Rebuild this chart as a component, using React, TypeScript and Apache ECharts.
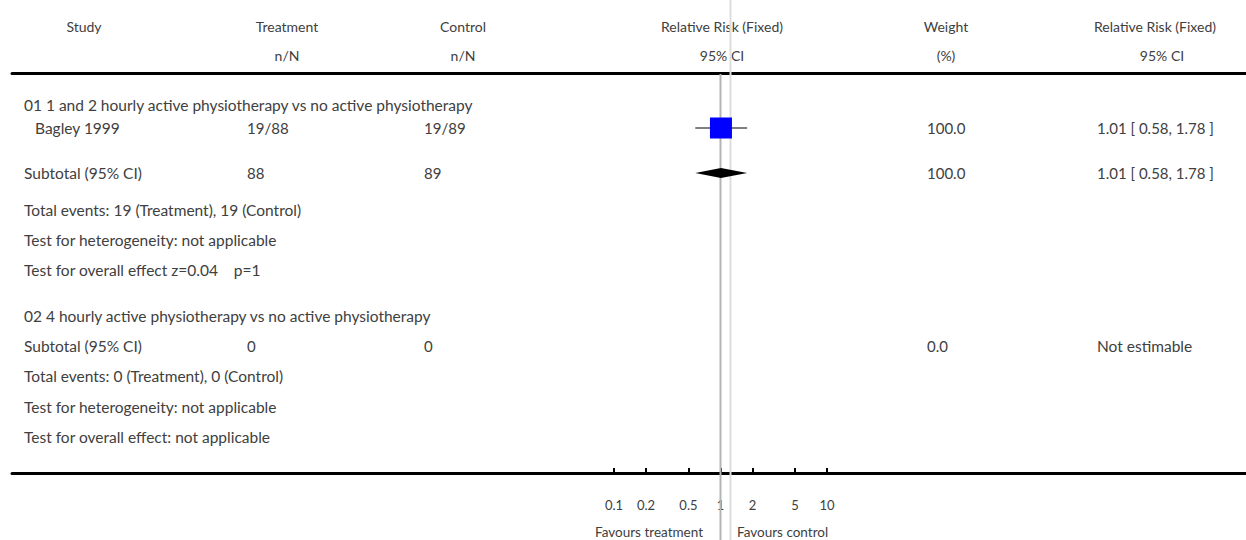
import React, { useEffect, useRef } from "react";
import * as echarts from "echarts";

// ---------- data ----------
const studyNames = ["Bagley 1999"];
const treatEvents = [19];
const treatTotal = [88];
const ctrlEvents = [19];
const ctrlTotal = [89];
const studyWeight = [100.0];
const studyRR = [1.01];
const studyLo = [0.58];
const studyHi = [1.78];

const subtotalRR = [1.01];
const subtotalLo = [0.58];
const subtotalHi = [1.78];

const tickValues = [0.1, 0.2, 0.5, 1, 2, 5, 10];
const tickLabels = ["0.1", "0.2", "0.5", "1", "2", "5", "10"];

const group1Title = "01 1 and 2 hourly active physiotherapy vs no active physiotherapy";
const group2Title = "02 4 hourly active physiotherapy vs no active physiotherapy";

// ---------- layout ----------
const W = 1246;
const H = 540;
const GRID_TOP = 73;
const GRID_BOTTOM_Y = 473;
const XMIN = -6.652;
const XMAX = 4.934;
const TEXT_COLOR = "#404040";
const FONT_FAMILY = "Lato, 'Open Sans', sans-serif";
const HEAD_SIZE = 14;
const LABEL_SIZE = 15.5;
const NUM_SIZE = 15;

const ROW = {
  h1: 26,
  h2: 55,
  g1: 105,
  study: 128,
  sub1: 173,
  ev1: 210,
  het1: 240,
  eff1: 270,
  g2: 316,
  sub2: 346,
  ev2: 376,
  het2: 407,
  eff2: 437,
  fav: 532,
};
const COL = {
  left: 24,
  study: 35,
  treat: 247,
  ctrl: 424,
  weight: 927,
  rrText: 1097,
};

const fmtCI = (r: number, l: number, h: number) =>
  `${r.toFixed(2)} [ ${l.toFixed(2)}, ${h.toFixed(2)} ]`;

function txt(text: string, x: number, y: number, align: string = "left", size = LABEL_SIZE) {
  return {
    type: "text",
    x,
    y,
    silent: true,
    style: {
      text,
      fill: TEXT_COLOR,
      fontSize: size,
      fontFamily: FONT_FAMILY,
      fontWeight: 400,
      align,
      verticalAlign: "middle",
    },
  };
}

export default function App() {
  const ref = useRef<HTMLDivElement>(null);

  useEffect(() => {
    document.body.style.margin = "0";
    const chart = echarts.init(ref.current!, null, { renderer: "svg" });

    const sumTE = treatEvents.reduce((a, b) => a + b, 0);
    const sumCE = ctrlEvents.reduce((a, b) => a + b, 0);
    const sumTN = treatTotal.reduce((a, b) => a + b, 0);
    const sumCN = ctrlTotal.reduce((a, b) => a + b, 0);
    const sumW = studyWeight.reduce((a, b) => a + b, 0);

    const texts: any[] = [
      // header
      txt("Study", 84, ROW.h1, "center", HEAD_SIZE),
      txt("Treatment", 287, ROW.h1, "center", HEAD_SIZE),
      txt("n/N", 287, ROW.h2, "center", HEAD_SIZE),
      txt("Control", 463, ROW.h1, "center", HEAD_SIZE),
      txt("n/N", 463, ROW.h2, "center", HEAD_SIZE),
      txt("Relative Risk (Fixed)", 722, ROW.h1, "center", HEAD_SIZE),
      txt("95% CI", 722, ROW.h2, "center", HEAD_SIZE),
      txt("Weight", 946, ROW.h1, "center", HEAD_SIZE),
      txt("(%)", 946, ROW.h2, "center", HEAD_SIZE),
      txt("Relative Risk (Fixed)", 1155, ROW.h1, "center", HEAD_SIZE),
      txt("95% CI", 1162, ROW.h2, "center", HEAD_SIZE),
      // group 1
      txt(group1Title, COL.left, ROW.g1),
      txt(studyNames[0], COL.study, ROW.study),
      txt(`${treatEvents[0]}/${treatTotal[0]}`, COL.treat, ROW.study, "left", NUM_SIZE),
      txt(`${ctrlEvents[0]}/${ctrlTotal[0]}`, COL.ctrl, ROW.study, "left", NUM_SIZE),
      txt(studyWeight[0].toFixed(1), COL.weight, ROW.study, "left", NUM_SIZE),
      txt(fmtCI(studyRR[0], studyLo[0], studyHi[0]), COL.rrText, ROW.study, "left", NUM_SIZE),
      txt("Subtotal (95% CI)", COL.left, ROW.sub1),
      txt(String(sumTN), COL.treat, ROW.sub1, "left", NUM_SIZE),
      txt(String(sumCN), COL.ctrl, ROW.sub1, "left", NUM_SIZE),
      txt(sumW.toFixed(1), COL.weight, ROW.sub1, "left", NUM_SIZE),
      txt(fmtCI(subtotalRR[0], subtotalLo[0], subtotalHi[0]), COL.rrText, ROW.sub1, "left", NUM_SIZE),
      txt(`Total events: ${sumTE} (Treatment), ${sumCE} (Control)`, COL.left, ROW.ev1),
      txt("Test for heterogeneity: not applicable", COL.left, ROW.het1),
      txt("Test for overall effect z=0.04\u00a0\u00a0\u00a0\u00a0p=1", COL.left, ROW.eff1),
      // group 2
      txt(group2Title, COL.left, ROW.g2),
      txt("Subtotal (95% CI)", COL.left, ROW.sub2),
      txt("0", COL.treat, ROW.sub2, "left", NUM_SIZE),
      txt("0", COL.ctrl, ROW.sub2, "left", NUM_SIZE),
      txt((0).toFixed(1), COL.weight, ROW.sub2, "left", NUM_SIZE),
      txt("Not estimable", COL.rrText, ROW.sub2),
      txt("Total events: 0 (Treatment), 0 (Control)", COL.left, ROW.ev2),
      txt("Test for heterogeneity: not applicable", COL.left, ROW.het2),
      txt("Test for overall effect: not applicable", COL.left, ROW.eff2),
      // footer
      txt("Favours treatment", 703, ROW.fav, "right", 13.5),
      txt("Favours control", 737, ROW.fav, "left", 13.5),
    ];

    const lg = (v: number) => Math.log10(v);

    const option: any = {
      animation: false,
      grid: { left: 12, right: 0, top: GRID_TOP, bottom: H - GRID_BOTTOM_Y, containLabel: false },
      xAxis: [
        {
          type: "value",
          min: XMIN,
          max: XMAX,
          position: "bottom",
          axisLine: { show: true, lineStyle: { color: "#000", width: 3 } },
          axisTick: {
            show: true,
            inside: true,
            length: 5,
            lineStyle: { color: "#000", width: 2 },
            customValues: tickValues.map(lg),
          },
          axisLabel: {
            show: true,
            margin: 25,
            color: TEXT_COLOR,
            fontSize: 13,
            fontFamily: FONT_FAMILY,
            fontWeight: 400,
            customValues: tickValues.map(lg),
            formatter: (v: number) => {
              const i = tickValues.findIndex((t) => Math.abs(lg(t) - v) < 1e-6);
              return i >= 0 ? tickLabels[i] : "";
            },
          },
          splitLine: { show: false },
        },
        {
          type: "value",
          min: XMIN,
          max: XMAX,
          position: "top",
          axisLine: { show: true, lineStyle: { color: "#000", width: 3 } },
          axisTick: { show: false },
          axisLabel: { show: false },
          splitLine: { show: false },
        },
      ],
      yAxis: {
        type: "value",
        inverse: true,
        min: GRID_TOP,
        max: GRID_BOTTOM_Y,
        show: false,
      },
      series: [
        // reference lines
        {
          type: "custom",
          silent: true,
          clip: false,
          z: 1,
          data: [[0]],
          renderItem: (params: any, api: any) => {
            const x1 = api.coord([0, GRID_TOP])[0];
            const x2 = x1 + 10;
            return {
              type: "group",
              children: [
                {
                  type: "line",
                  shape: { x1: x2, y1: 0, x2: x2, y2: H },
                  style: { stroke: "#dedede", lineWidth: 2 },
                },
                {
                  type: "line",
                  shape: { x1, y1: GRID_TOP + 1, x2: x1, y2: H },
                  style: { stroke: "#b4b4b4", lineWidth: 2 },
                },
              ],
            };
          },
        },
        // study CI line
        {
          type: "custom",
          silent: true,
          z: 3,
          data: studyRR.map((r, i) => [lg(studyLo[i]), lg(studyHi[i]), ROW.study]),
          renderItem: (params: any, api: any) => {
            const a = api.coord([api.value(0), api.value(2)]);
            const b = api.coord([api.value(1), api.value(2)]);
            return {
              type: "line",
              shape: { x1: a[0], y1: a[1], x2: b[0], y2: b[1] },
              style: { stroke: "#000", lineWidth: 1 },
            };
          },
        },
        // study squares
        {
          type: "scatter",
          silent: true,
          z: 4,
          symbol: "rect",
          symbolSize: [22, 21],
          itemStyle: { color: "#0000ff", opacity: 1 },
          data: studyRR.map((r) => [lg(r), ROW.study]),
        },
        // subtotal diamond
        {
          type: "custom",
          silent: true,
          z: 4,
          data: subtotalRR.map((r, i) => [lg(subtotalLo[i]), lg(r), lg(subtotalHi[i]), ROW.sub1]),
          renderItem: (params: any, api: any) => {
            const y = api.value(3);
            const lo = api.coord([api.value(0), y]);
            const mid = api.coord([api.value(1), y]);
            const hi = api.coord([api.value(2), y]);
            return {
              type: "polygon",
              shape: {
                points: [
                  [lo[0], lo[1]],
                  [mid[0], mid[1] - 5],
                  [hi[0], hi[1]],
                  [mid[0], mid[1] + 5],
                ],
              },
              style: { fill: "#000" },
            };
          },
        },
      ],
      graphic: texts,
    };

    chart.setOption(option);
    return () => chart.dispose();
  }, []);

  return <div ref={ref} style={{ width: W, height: H }} />;
}
